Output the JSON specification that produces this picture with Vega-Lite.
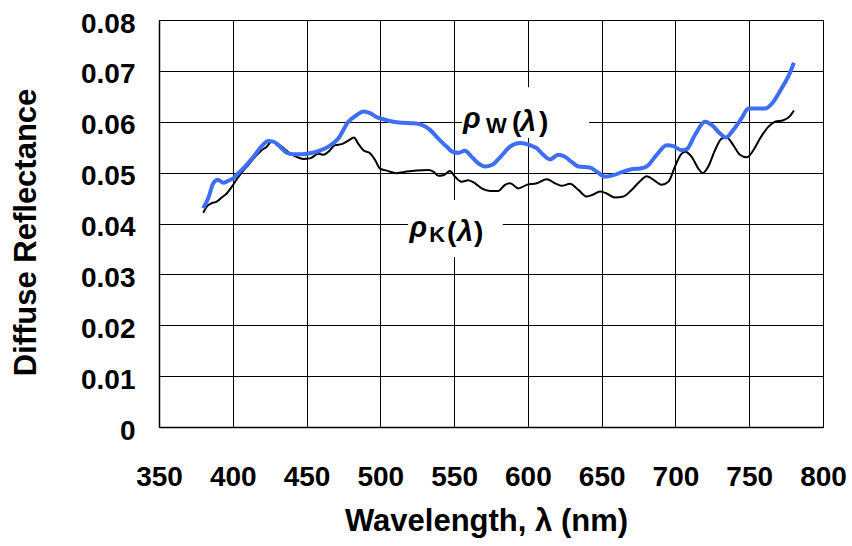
{
  "$schema": "https://vega.github.io/schema/vega-lite/v6.json",
  "width": 664,
  "height": 407,
  "autosize": "none",
  "padding": {"left": 159, "top": 20, "right": 29, "bottom": 119},
  "background": "white",
  "config": {
    "view": {"stroke": "#808080", "strokeWidth": 1},
    "font": "Liberation Sans",
    "axis": {
      "domainColor": "#000000",
      "domainWidth": 1.5,
      "gridColor": "#000000",
      "gridWidth": 1,
      "ticks": false,
      "tickSize": 0,
      "labelFlush": false,
      "labelOverlap": false,
      "labelFont": "Liberation Sans",
      "labelFontWeight": "bold",
      "labelFontSize": 28,
      "labelColor": "#000000",
      "titleFont": "Liberation Sans",
      "titleFontWeight": "bold",
      "titleFontSize": 31,
      "titleColor": "#000000"
    }
  },
  "datasets": {
    "curves": [
      {"wl": 380, "r": 0.0430, "series": "W"},
      {"wl": 383.4, "r": 0.0450, "series": "W"},
      {"wl": 386.8, "r": 0.0479, "series": "W"},
      {"wl": 389.8, "r": 0.0486, "series": "W"},
      {"wl": 393.6, "r": 0.0480, "series": "W"},
      {"wl": 397, "r": 0.0484, "series": "W"},
      {"wl": 400.4, "r": 0.0489, "series": "W"},
      {"wl": 403.8, "r": 0.0499, "series": "W"},
      {"wl": 408.3, "r": 0.0512, "series": "W"},
      {"wl": 414, "r": 0.0531, "series": "W"},
      {"wl": 419.6, "r": 0.0552, "series": "W"},
      {"wl": 424.1, "r": 0.0562, "series": "W"},
      {"wl": 427.5, "r": 0.0561, "series": "W"},
      {"wl": 432, "r": 0.0551, "series": "W"},
      {"wl": 436.5, "r": 0.0539, "series": "W"},
      {"wl": 441, "r": 0.0536, "series": "W"},
      {"wl": 446.7, "r": 0.0536, "series": "W"},
      {"wl": 452.3, "r": 0.0538, "series": "W"},
      {"wl": 458, "r": 0.0542, "series": "W"},
      {"wl": 464.8, "r": 0.0551, "series": "W"},
      {"wl": 471.5, "r": 0.0567, "series": "W"},
      {"wl": 478.3, "r": 0.0600, "series": "W"},
      {"wl": 484, "r": 0.0613, "series": "W"},
      {"wl": 488.5, "r": 0.0620, "series": "W"},
      {"wl": 493, "r": 0.0617, "series": "W"},
      {"wl": 497.5, "r": 0.0609, "series": "W"},
      {"wl": 502, "r": 0.0605, "series": "W"},
      {"wl": 508.8, "r": 0.0600, "series": "W"},
      {"wl": 515.6, "r": 0.0598, "series": "W"},
      {"wl": 522.3, "r": 0.0597, "series": "W"},
      {"wl": 528, "r": 0.0594, "series": "W"},
      {"wl": 533.7, "r": 0.0584, "series": "W"},
      {"wl": 539.3, "r": 0.0567, "series": "W"},
      {"wl": 545, "r": 0.0551, "series": "W"},
      {"wl": 549.5, "r": 0.0540, "series": "W"},
      {"wl": 552.9, "r": 0.0539, "series": "W"},
      {"wl": 557.4, "r": 0.0543, "series": "W"},
      {"wl": 561.9, "r": 0.0531, "series": "W"},
      {"wl": 566.4, "r": 0.0518, "series": "W"},
      {"wl": 571, "r": 0.0512, "series": "W"},
      {"wl": 575.5, "r": 0.0515, "series": "W"},
      {"wl": 581.1, "r": 0.0530, "series": "W"},
      {"wl": 587.9, "r": 0.0551, "series": "W"},
      {"wl": 594.7, "r": 0.0558, "series": "W"},
      {"wl": 601.4, "r": 0.0554, "series": "W"},
      {"wl": 606, "r": 0.0548, "series": "W"},
      {"wl": 610.4, "r": 0.0535, "series": "W"},
      {"wl": 615, "r": 0.0526, "series": "W"},
      {"wl": 620.6, "r": 0.0535, "series": "W"},
      {"wl": 625.1, "r": 0.0531, "series": "W"},
      {"wl": 629.7, "r": 0.0521, "series": "W"},
      {"wl": 634.2, "r": 0.0512, "series": "W"},
      {"wl": 642.1, "r": 0.0510, "series": "W"},
      {"wl": 646.6, "r": 0.0502, "series": "W"},
      {"wl": 652.3, "r": 0.0492, "series": "W"},
      {"wl": 657.9, "r": 0.0495, "series": "W"},
      {"wl": 664.7, "r": 0.0502, "series": "W"},
      {"wl": 671.4, "r": 0.0507, "series": "W"},
      {"wl": 676, "r": 0.0508, "series": "W"},
      {"wl": 680.5, "r": 0.0512, "series": "W"},
      {"wl": 687.3, "r": 0.0535, "series": "W"},
      {"wl": 694.1, "r": 0.0554, "series": "W"},
      {"wl": 698.6, "r": 0.0552, "series": "W"},
      {"wl": 704.2, "r": 0.0544, "series": "W"},
      {"wl": 707.6, "r": 0.0546, "series": "W"},
      {"wl": 713.2, "r": 0.0574, "series": "W"},
      {"wl": 720, "r": 0.0600, "series": "W"},
      {"wl": 724.5, "r": 0.0594, "series": "W"},
      {"wl": 730.2, "r": 0.0577, "series": "W"},
      {"wl": 734.2, "r": 0.0569, "series": "W"},
      {"wl": 739.2, "r": 0.0584, "series": "W"},
      {"wl": 744.9, "r": 0.0607, "series": "W"},
      {"wl": 749.4, "r": 0.0626, "series": "W"},
      {"wl": 753.9, "r": 0.0626, "series": "W"},
      {"wl": 760.7, "r": 0.0626, "series": "W"},
      {"wl": 766.3, "r": 0.0639, "series": "W"},
      {"wl": 772, "r": 0.0666, "series": "W"},
      {"wl": 776.5, "r": 0.0689, "series": "W"},
      {"wl": 780.3, "r": 0.0716, "series": "W"},
      {"wl": 380, "r": 0.0421, "series": "K"},
      {"wl": 382.3, "r": 0.0433, "series": "K"},
      {"wl": 385.7, "r": 0.0440, "series": "K"},
      {"wl": 389.1, "r": 0.0443, "series": "K"},
      {"wl": 392.5, "r": 0.0451, "series": "K"},
      {"wl": 395.9, "r": 0.0459, "series": "K"},
      {"wl": 399.3, "r": 0.0472, "series": "K"},
      {"wl": 402.7, "r": 0.0487, "series": "K"},
      {"wl": 406, "r": 0.0500, "series": "K"},
      {"wl": 410.5, "r": 0.0515, "series": "K"},
      {"wl": 415.1, "r": 0.0531, "series": "K"},
      {"wl": 419.6, "r": 0.0544, "series": "K"},
      {"wl": 423, "r": 0.0551, "series": "K"},
      {"wl": 426.4, "r": 0.0561, "series": "K"},
      {"wl": 428.6, "r": 0.0560, "series": "K"},
      {"wl": 433.2, "r": 0.0551, "series": "K"},
      {"wl": 438.8, "r": 0.0538, "series": "K"},
      {"wl": 443.3, "r": 0.0531, "series": "K"},
      {"wl": 447.8, "r": 0.0527, "series": "K"},
      {"wl": 452.3, "r": 0.0528, "series": "K"},
      {"wl": 458, "r": 0.0537, "series": "K"},
      {"wl": 461.4, "r": 0.0535, "series": "K"},
      {"wl": 464.8, "r": 0.0541, "series": "K"},
      {"wl": 469.3, "r": 0.0554, "series": "K"},
      {"wl": 473.8, "r": 0.0556, "series": "K"},
      {"wl": 478.3, "r": 0.0563, "series": "K"},
      {"wl": 482.1, "r": 0.0569, "series": "K"},
      {"wl": 485, "r": 0.0557, "series": "K"},
      {"wl": 488.5, "r": 0.0544, "series": "K"},
      {"wl": 493, "r": 0.0538, "series": "K"},
      {"wl": 496.4, "r": 0.0525, "series": "K"},
      {"wl": 499.8, "r": 0.0508, "series": "K"},
      {"wl": 504.3, "r": 0.0504, "series": "K"},
      {"wl": 511.1, "r": 0.0499, "series": "K"},
      {"wl": 517.9, "r": 0.0502, "series": "K"},
      {"wl": 524.6, "r": 0.0504, "series": "K"},
      {"wl": 532.5, "r": 0.0505, "series": "K"},
      {"wl": 535.9, "r": 0.0502, "series": "K"},
      {"wl": 539.3, "r": 0.0494, "series": "K"},
      {"wl": 542.7, "r": 0.0495, "series": "K"},
      {"wl": 547.2, "r": 0.0503, "series": "K"},
      {"wl": 550.6, "r": 0.0492, "series": "K"},
      {"wl": 555.1, "r": 0.0482, "series": "K"},
      {"wl": 559.6, "r": 0.0485, "series": "K"},
      {"wl": 564.2, "r": 0.0479, "series": "K"},
      {"wl": 568.7, "r": 0.0469, "series": "K"},
      {"wl": 574.3, "r": 0.0464, "series": "K"},
      {"wl": 580, "r": 0.0464, "series": "K"},
      {"wl": 584.5, "r": 0.0476, "series": "K"},
      {"wl": 587.9, "r": 0.0479, "series": "K"},
      {"wl": 593.5, "r": 0.0469, "series": "K"},
      {"wl": 599.2, "r": 0.0476, "series": "K"},
      {"wl": 606, "r": 0.0479, "series": "K"},
      {"wl": 612.8, "r": 0.0487, "series": "K"},
      {"wl": 618.4, "r": 0.0479, "series": "K"},
      {"wl": 622.9, "r": 0.0474, "series": "K"},
      {"wl": 628.5, "r": 0.0478, "series": "K"},
      {"wl": 634.2, "r": 0.0466, "series": "K"},
      {"wl": 639.9, "r": 0.0453, "series": "K"},
      {"wl": 644.3, "r": 0.0457, "series": "K"},
      {"wl": 648.9, "r": 0.0463, "series": "K"},
      {"wl": 653.4, "r": 0.0459, "series": "K"},
      {"wl": 659, "r": 0.0451, "series": "K"},
      {"wl": 664.7, "r": 0.0453, "series": "K"},
      {"wl": 670.3, "r": 0.0466, "series": "K"},
      {"wl": 676, "r": 0.0483, "series": "K"},
      {"wl": 680.5, "r": 0.0493, "series": "K"},
      {"wl": 686.1, "r": 0.0484, "series": "K"},
      {"wl": 690.6, "r": 0.0476, "series": "K"},
      {"wl": 695.2, "r": 0.0482, "series": "K"},
      {"wl": 699.7, "r": 0.0512, "series": "K"},
      {"wl": 703.1, "r": 0.0533, "series": "K"},
      {"wl": 706.5, "r": 0.0541, "series": "K"},
      {"wl": 711, "r": 0.0531, "series": "K"},
      {"wl": 715.5, "r": 0.0508, "series": "K"},
      {"wl": 718.5, "r": 0.0499, "series": "K"},
      {"wl": 722.3, "r": 0.0512, "series": "K"},
      {"wl": 726.8, "r": 0.0544, "series": "K"},
      {"wl": 731.4, "r": 0.0567, "series": "K"},
      {"wl": 734.7, "r": 0.0569, "series": "K"},
      {"wl": 739.2, "r": 0.0554, "series": "K"},
      {"wl": 743.7, "r": 0.0535, "series": "K"},
      {"wl": 748.3, "r": 0.0530, "series": "K"},
      {"wl": 752.8, "r": 0.0544, "series": "K"},
      {"wl": 757.3, "r": 0.0567, "series": "K"},
      {"wl": 762.9, "r": 0.0590, "series": "K"},
      {"wl": 767.5, "r": 0.0600, "series": "K"},
      {"wl": 773.1, "r": 0.0603, "series": "K"},
      {"wl": 777.6, "r": 0.0611, "series": "K"},
      {"wl": 780.3, "r": 0.0622, "series": "K"}
    ],
    "boxes": [
      {"x1": 555.3, "x2": 641.4, "y1": 0.0568, "y2": 0.0668},
      {"x1": 518.8, "x2": 583, "y1": 0.0334, "y2": 0.0446}
    ],
    "labels": [
      {"t": "ρ", "kind": "greek", "wl": 556.0, "r": 0.0588},
      {"t": "W", "kind": "sub", "wl": 578.7, "r": 0.0577},
      {"t": "(", "kind": "paren", "wl": 589.2, "r": 0.0581},
      {"t": "λ", "kind": "greek", "wl": 594.7, "r": 0.0581},
      {"t": ")", "kind": "paren", "wl": 607.5, "r": 0.0581},
      {"t": "ρ", "kind": "greek", "wl": 519.8, "r": 0.0374},
      {"t": "K", "kind": "sub", "wl": 538.5, "r": 0.0364},
      {"t": "(", "kind": "paren", "wl": 545.2, "r": 0.0366},
      {"t": "λ", "kind": "greek", "wl": 552.0, "r": 0.0366},
      {"t": ")", "kind": "paren", "wl": 563.5, "r": 0.0366}
    ]
  },
  "layer": [
    {
      "data": {"name": "boxes"},
      "mark": {"type": "rect", "fill": "white", "stroke": null},
      "encoding": {
        "x": {"field": "x1", "type": "quantitative", "scale": {"domain": [350, 800], "nice": false, "zero": false},
          "axis": {"values": [350, 400, 450, 500, 550, 600, 650, 700, 750, 800], "title": "Wavelength, λ (nm)", "labelPadding": 36, "titlePadding": 15, "titleX": 327, "grid": true}},
        "x2": {"field": "x2"},
        "y": {"field": "y1", "type": "quantitative", "scale": {"domain": [0, 0.08], "nice": false},
          "axis": {"values": [0, 0.01, 0.02, 0.03, 0.04, 0.05, 0.06, 0.07, 0.08], "format": ".2~f", "title": "Diffuse Reflectance", "labelPadding": 24, "labelOffset": 4, "titlePadding": 38, "titleY": 212, "grid": true}},
        "y2": {"field": "y2"}
      }
    },
    {
      "data": {"name": "curves"},
      "transform": [{"filter": "datum.series === 'K'"}],
      "mark": {"type": "line", "color": "#000000", "strokeWidth": 2, "interpolate": "monotone"},
      "encoding": {
        "x": {"field": "wl", "type": "quantitative"},
        "y": {"field": "r", "type": "quantitative"}
      }
    },
    {
      "data": {"name": "curves"},
      "transform": [{"filter": "datum.series === 'W'"}],
      "mark": {"type": "line", "color": "#3d6ef5", "strokeWidth": 4, "interpolate": "monotone"},
      "encoding": {
        "x": {"field": "wl", "type": "quantitative"},
        "y": {"field": "r", "type": "quantitative"}
      }
    },
    {
      "data": {"name": "labels"},
      "transform": [{"filter": "datum.kind === 'greek'"}],
      "mark": {"type": "text", "align": "left", "baseline": "alphabetic", "font": "Liberation Sans", "fontStyle": "italic", "fontWeight": "bold", "fontSize": 29, "color": "#000000"},
      "encoding": {
        "x": {"field": "wl", "type": "quantitative"},
        "y": {"field": "r", "type": "quantitative"},
        "text": {"field": "t"}
      }
    },
    {
      "data": {"name": "labels"},
      "transform": [{"filter": "datum.kind === 'sub'"}],
      "mark": {"type": "text", "align": "center", "baseline": "alphabetic", "font": "Liberation Sans", "fontWeight": "bold", "fontSize": 22, "color": "#000000"},
      "encoding": {
        "x": {"field": "wl", "type": "quantitative"},
        "y": {"field": "r", "type": "quantitative"},
        "text": {"field": "t"}
      }
    },
    {
      "data": {"name": "labels"},
      "transform": [{"filter": "datum.kind === 'paren'"}],
      "mark": {"type": "text", "align": "left", "baseline": "alphabetic", "font": "Liberation Sans", "fontWeight": "bold", "fontSize": 28, "color": "#000000"},
      "encoding": {
        "x": {"field": "wl", "type": "quantitative"},
        "y": {"field": "r", "type": "quantitative"},
        "text": {"field": "t"}
      }
    }
  ]
}
